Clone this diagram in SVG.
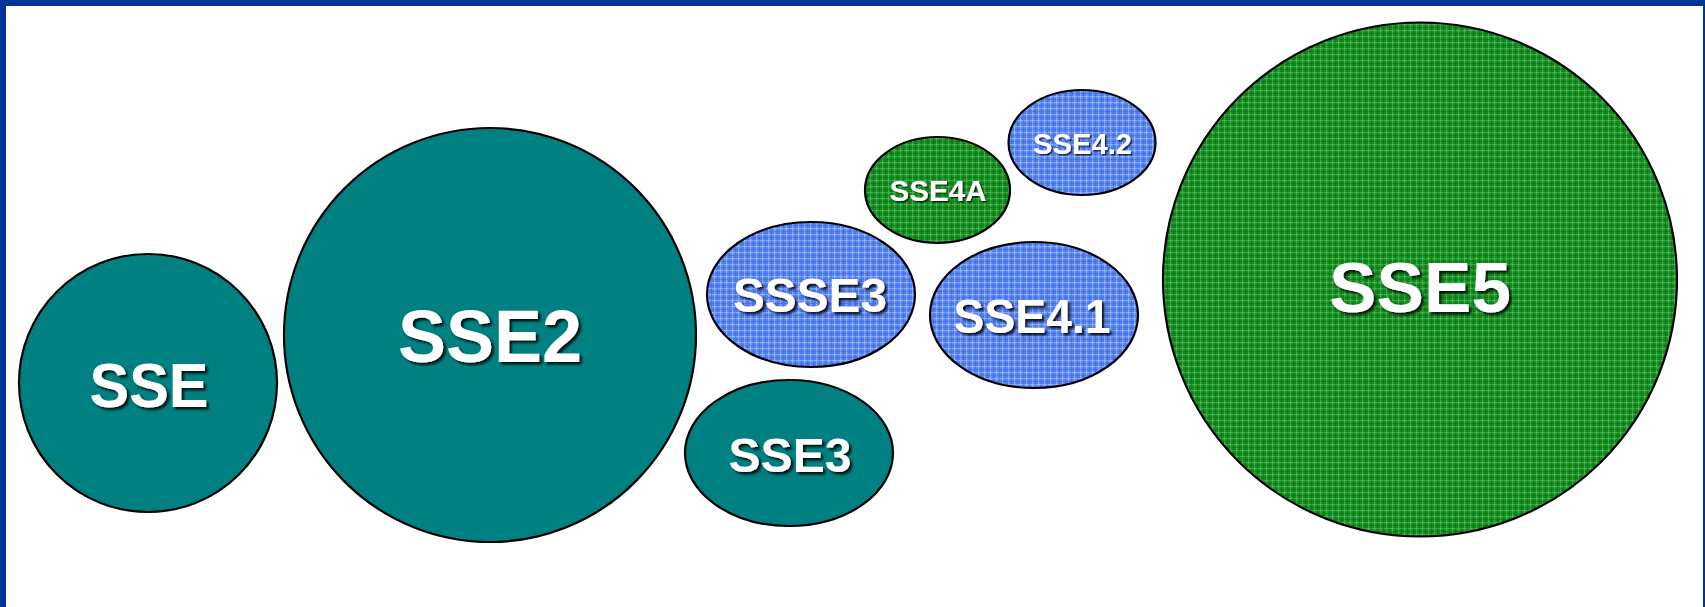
<svg xmlns="http://www.w3.org/2000/svg" width="1705" height="607" viewBox="0 0 1705 607">
  <defs>
    <pattern id="pGreen" width="6" height="6" patternUnits="userSpaceOnUse">
      <rect width="6" height="6" fill="#0f8a1b"/>
      <rect x="0" y="0" width="6" height="1.2" fill="#5cb864" opacity="0.7"/>
      <rect x="0" y="0" width="1.2" height="6" fill="#5cb864" opacity="0.7"/>
      <rect x="3" y="0" width="1" height="6" fill="#0a7514" opacity="0.5"/>
      <rect x="0" y="3" width="6" height="1" fill="#0a7514" opacity="0.5"/>
    </pattern>
    <pattern id="pBlue" width="6" height="6" patternUnits="userSpaceOnUse">
      <rect width="6" height="6" fill="#4f7ef8"/>
      <rect x="0" y="0" width="6" height="1.2" fill="#a4bcff" opacity="0.75"/>
      <rect x="0" y="0" width="1.2" height="6" fill="#a4bcff" opacity="0.75"/>
      <rect x="3" y="0" width="1" height="6" fill="#3d6ae6" opacity="0.5"/>
      <rect x="0" y="3" width="6" height="1" fill="#3d6ae6" opacity="0.5"/>
    </pattern>
    <filter id="sh" x="-10%" y="-10%" width="130%" height="140%">
      <feDropShadow dx="2.5" dy="2.5" stdDeviation="0.8" flood-color="#000" flood-opacity="0.85"/>
    </filter>
    <filter id="shs" x="-10%" y="-10%" width="130%" height="140%">
      <feDropShadow dx="1.5" dy="1.5" stdDeviation="0.6" flood-color="#000" flood-opacity="0.7"/>
    </filter>
  </defs>
  <style>
    .node { stroke: #000; stroke-width: 2.2; }
    .teal { fill: #008080; }
    .green { fill: url(#pGreen); }
    .blue { fill: url(#pBlue); }
    .lbl { font-family: "Liberation Sans", Arial, sans-serif; font-weight: bold; fill: #fff; text-anchor: middle; }
    .big { filter: url(#sh); }
    .small { filter: url(#shs); }
  </style>
  <rect x="0" y="0" width="1705" height="607" fill="#fff"/>
  <g id="frame" fill="#003399">
    <rect x="0" y="0" width="1705" height="6"/>
    <rect x="0" y="0" width="6" height="607"/>
    <rect x="1703" y="0" width="2" height="607"/>
  </g>
  <g id="connectors"></g>
  <g id="sse">
    <ellipse class="node teal" cx="148" cy="383" rx="129" ry="129"/>
    <text class="lbl big" x="149" y="407" font-size="63" textLength="119" lengthAdjust="spacingAndGlyphs">SSE</text>
  </g>
  <g id="sse2">
    <ellipse class="node teal" cx="490" cy="335" rx="206" ry="207"/>
    <text class="lbl big" x="490" y="362" font-size="74" textLength="184" lengthAdjust="spacingAndGlyphs">SSE2</text>
  </g>
  <g id="ssse3">
    <ellipse class="node blue" cx="811" cy="294.5" rx="104" ry="72.5"/>
    <text class="lbl big" x="810" y="312" font-size="49" textLength="154" lengthAdjust="spacingAndGlyphs">SSSE3</text>
  </g>
  <g id="sse3">
    <ellipse class="node teal" cx="789" cy="453" rx="104" ry="73"/>
    <text class="lbl big" x="790" y="472" font-size="48" textLength="123" lengthAdjust="spacingAndGlyphs">SSE3</text>
  </g>
  <g id="sse4a">
    <ellipse class="node green" cx="937.5" cy="190" rx="72.5" ry="53"/>
    <text class="lbl small" x="938" y="201" font-size="30" textLength="97" lengthAdjust="spacingAndGlyphs">SSE4A</text>
  </g>
  <g id="sse42">
    <ellipse class="node blue" cx="1082" cy="142.5" rx="73.5" ry="52.5"/>
    <text class="lbl small" x="1082.5" y="154" font-size="30" textLength="99" lengthAdjust="spacingAndGlyphs">SSE4.2</text>
  </g>
  <g id="sse41">
    <ellipse class="node blue" cx="1034" cy="315" rx="104" ry="73"/>
    <text class="lbl big" x="1032" y="333" font-size="49" textLength="157" lengthAdjust="spacingAndGlyphs">SSE4.1</text>
  </g>
  <g id="sse5">
    <ellipse class="node green" cx="1420" cy="279.5" rx="257" ry="257"/>
    <text class="lbl big" x="1420" y="312" font-size="70" textLength="182" lengthAdjust="spacingAndGlyphs">SSE5</text>
  </g>
</svg>
